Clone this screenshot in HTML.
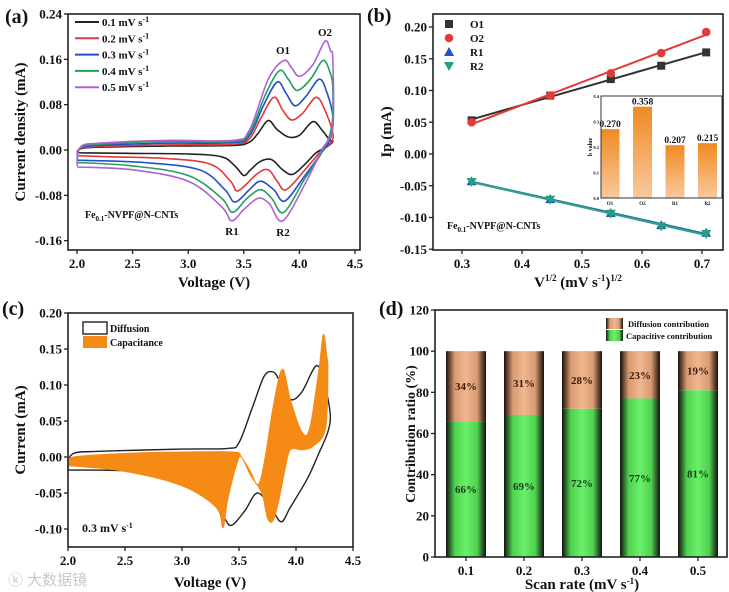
<!DOCTYPE html>
<html><head><meta charset="utf-8"><style>
body{margin:0;background:#fff}
svg{display:block;font-family:"Liberation Serif","Noto Serif CJK SC",serif;font-weight:bold}
</style></head><body>
<svg id="fig" width="729" height="592" viewBox="0 0 729 592" xmlns="http://www.w3.org/2000/svg">
<defs>
<linearGradient id="gBarG" x1="0" x2="1" y1="0" y2="0"><stop offset="0" stop-color="#111"/><stop offset="0.22" stop-color="#4fd24f"/><stop offset="0.5" stop-color="#6bf06b"/><stop offset="0.78" stop-color="#4fd24f"/><stop offset="1" stop-color="#111"/></linearGradient>
<linearGradient id="gBarT" x1="0" x2="1" y1="0" y2="0"><stop offset="0" stop-color="#1a0f08"/><stop offset="0.22" stop-color="#d89a72"/><stop offset="0.5" stop-color="#f0b890"/><stop offset="0.78" stop-color="#d89a72"/><stop offset="1" stop-color="#1a0f08"/></linearGradient>
<linearGradient id="gIn" x1="0" x2="0" y1="0" y2="1"><stop offset="0" stop-color="#f08a20"/><stop offset="1" stop-color="#f8c9a0"/></linearGradient>
</defs>
<g id="root"></g>
<text x="8" y="585" font-size="15" fill="#c8c8c8" font-weight="normal" font-family="Liberation Sans, Noto Sans CJK SC, sans-serif">ⓚ 大数据镜</text>
</svg>
<script>
// ---------- DATA ----------
// Panel (a): CV curves, [V, I(mA)] pairs, forward then reverse
const rateLabels = ["0.1","0.2","0.3","0.4","0.5"];
const rateColors = ["#222","#e03a3a","#2250c8","#22a060","#b060d8"];
const cv01 = [[2.0,-0.005],[2.03,0.002],[2.2,0.005],[2.8,0.007],[3.4,0.008],[3.55,0.014],[3.63,0.03],[3.72,0.052],[3.8,0.036],[3.9,0.023],[4.0,0.026],[4.12,0.05],[4.2,0.036],[4.27,0.018],[4.3,0.015],[4.25,0.006],[4.15,-0.005],[4.05,-0.025],[3.94,-0.043],[3.85,-0.035],[3.75,-0.017],[3.65,-0.02],[3.56,-0.035],[3.5,-0.045],[3.42,-0.028],[3.3,-0.012],[3.0,-0.007],[2.5,-0.006],[2.0,-0.005]];
const cv02 = [[2.0,-0.01],[2.03,0.002],[2.2,0.006],[2.8,0.009],[3.4,0.01],[3.55,0.02],[3.65,0.055],[3.77,0.093],[3.85,0.07],[3.93,0.053],[4.03,0.065],[4.15,0.093],[4.23,0.07],[4.3,0.03],[4.28,0.012],[4.18,-0.005],[4.05,-0.035],[3.88,-0.07],[3.8,-0.055],[3.72,-0.035],[3.62,-0.042],[3.45,-0.072],[3.38,-0.055],[3.2,-0.025],[2.8,-0.015],[2.3,-0.012],[2.0,-0.01]];
const cv03 = [[2.0,-0.018],[2.03,0.003],[2.2,0.008],[2.8,0.012],[3.4,0.013],[3.55,0.025],[3.68,0.08],[3.8,0.12],[3.88,0.1],[3.96,0.078],[4.06,0.095],[4.18,0.125],[4.25,0.1],[4.3,0.06],[4.28,0.02],[4.18,-0.01],[4.05,-0.045],[3.87,-0.09],[3.77,-0.07],[3.65,-0.055],[3.55,-0.07],[3.42,-0.092],[3.33,-0.07],[3.1,-0.035],[2.6,-0.022],[2.0,-0.018]];
const cv04 = [[2.0,-0.022],[2.03,0.004],[2.2,0.01],[2.8,0.015],[3.4,0.015],[3.55,0.03],[3.7,0.1],[3.82,0.14],[3.9,0.125],[3.98,0.105],[4.1,0.125],[4.21,0.158],[4.27,0.14],[4.3,0.11],[4.29,0.04],[4.2,-0.005],[4.05,-0.05],[3.86,-0.11],[3.75,-0.085],[3.65,-0.07],[3.53,-0.085],[3.4,-0.11],[3.3,-0.085],[3.0,-0.045],[2.5,-0.028],[2.0,-0.022]];
const cv05 = [[2.0,-0.028],[2.03,0.005],[2.2,0.012],[2.8,0.017],[3.4,0.017],[3.55,0.035],[3.72,0.125],[3.86,0.158],[3.93,0.145],[4.0,0.13],[4.12,0.15],[4.23,0.192],[4.28,0.175],[4.3,0.16],[4.3,0.04],[4.2,0.0],[4.05,-0.06],[3.85,-0.125],[3.73,-0.095],[3.63,-0.085],[3.5,-0.105],[3.39,-0.125],[3.3,-0.1],[3.0,-0.055],[2.5,-0.035],[2.0,-0.03]];
const aYTicks = [0.24,0.16,0.08,0.00,-0.08,-0.16];
const aXTicks = [2.0,2.5,3.0,3.5,4.0,4.5];
// Panel (b)
const bX = [0.316,0.447,0.548,0.632,0.707];
const bO1 = [0.053,0.092,0.118,0.139,0.160];
const bO2 = [0.050,0.092,0.127,0.159,0.192];
const bR1 = [-0.043,-0.071,-0.093,-0.112,-0.124];
const bR2 = [-0.044,-0.072,-0.094,-0.114,-0.126];
const bYTicks = [0.20,0.15,0.10,0.05,0.00,-0.05,-0.10,-0.15];
const bXTicks = [0.3,0.4,0.5,0.6,0.7];
const inCats = ["O1","O2","R1","R2"];
const inVals = [0.270,0.358,0.207,0.215];
const inTicks = [0.0,0.1,0.2,0.3,0.4];
// Panel (c)
const cDiff = [[2.0,-0.01],[2.05,0.005],[2.3,0.008],[3.0,0.011],[3.4,0.012],[3.5,0.02],[3.62,0.07],[3.72,0.112],[3.8,0.118],[3.86,0.105],[3.95,0.08],[4.05,0.09],[4.18,0.127],[4.25,0.1],[4.3,0.06],[4.28,0.035],[4.2,0.005],[4.1,-0.03],[3.95,-0.07],[3.87,-0.09],[3.78,-0.07],[3.66,-0.05],[3.55,-0.075],[3.43,-0.095],[3.35,-0.08],[3.1,-0.035],[2.6,-0.02],[2.0,-0.018]];
const cCap = [[2.0,-0.01],[2.05,0.0],[2.5,0.005],[3.0,0.007],[3.45,0.007],[3.52,0.0],[3.6,-0.02],[3.67,-0.038],[3.73,0.0],[3.8,0.07],[3.88,0.122],[3.95,0.08],[4.05,0.035],[4.12,0.04],[4.2,0.12],[4.24,0.17],[4.27,0.14],[4.28,0.12],[4.26,0.04],[4.15,0.015],[4.05,0.01],[3.95,0.01],[3.9,-0.02],[3.85,-0.06],[3.8,-0.088],[3.75,-0.085],[3.7,-0.05],[3.6,-0.025],[3.52,0.0],[3.48,-0.01],[3.4,-0.06],[3.36,-0.098],[3.3,-0.07],[3.0,-0.04],[2.5,-0.02],[2.0,-0.012]];
const cYTicks = [0.20,0.15,0.10,0.05,0.00,-0.05,-0.10];
const cXTicks = [2.0,2.5,3.0,3.5,4.0,4.5];
// Panel (d)
const dCats = ["0.1","0.2","0.3","0.4","0.5"];
const dCap = [66,69,72,77,81];
const dDiff = [34,31,28,23,19];
const dYTicks = [0,20,40,60,80,100,120];

// ---------- helpers ----------
const NS="http://www.w3.org/2000/svg";
const root=document.getElementById('root');
function mk(tag,attrs,parent){const e=document.createElementNS(NS,tag);for(const k in attrs)e.setAttribute(k,attrs[k]);(parent||root).appendChild(e);return e;}
function txt(x,y,s,size,anchor,parent,extra){const t=mk('text',Object.assign({x:x,y:y,'font-size':size,'text-anchor':anchor||'start',fill:'#111'},extra||{}),parent);t.innerHTML=s;return t;}
function lin(d0,d1,r0,r1){return v=>r0+(v-d0)*(r1-r0)/(d1-d0);}
function smooth(pts){let d='M'+pts[0][0].toFixed(1)+','+pts[0][1].toFixed(1);for(let i=0;i<pts.length-1;i++){const p0=pts[Math.max(i-1,0)],p1=pts[i],p2=pts[i+1],p3=pts[Math.min(i+2,pts.length-1)];const c1=[p1[0]+(p2[0]-p0[0])/6,p1[1]+(p2[1]-p0[1])/6],c2=[p2[0]-(p3[0]-p1[0])/6,p2[1]-(p3[1]-p1[1])/6];d+=' C'+c1[0].toFixed(1)+','+c1[1].toFixed(1)+' '+c2[0].toFixed(1)+','+c2[1].toFixed(1)+' '+p2[0].toFixed(1)+','+p2[1].toFixed(1);}return d;}
function frame(x0,y0,x1,y1,name){const r=mk('rect',{x:x0,y:y0,width:x1-x0,height:y1-y0,fill:'none',stroke:'#222','stroke-width':1.6});}
function yAxis(ticks,sy,x0,fmt,name){const g=mk('g',{});ticks.forEach(v=>{const y=sy(v);mk('line',{x1:x0-4,x2:x0,y1:y,y2:y,stroke:'#222','stroke-width':1.3},g);txt(x0-6,y+4.5,fmt(v),13,'end',g);});}
function xAxis(ticks,sx,y0,fmt,name){const g=mk('g',{});ticks.forEach(v=>{const x=sx(v);mk('line',{x1:x,x2:x,y1:y0,y2:y0+4,stroke:'#222','stroke-width':1.3},g);txt(x,y0+18,fmt(v),13,'middle',g);});}

// ---------- Panel (a) ----------
(function(){
const sx=lin(2.0,4.5,77,355), sy=lin(0,0.24,150,14);
const g=mk('g',{});
const curves=[cv01,cv02,cv03,cv04,cv05];
curves.forEach((c,i)=>{const p=mk('path',{d:smooth(c.map(q=>[sx(q[0]),sy(q[1])])),fill:'none',stroke:rateColors[i],'stroke-width':1.6},g);
});
frame(68,14,360,250,'plot-frame-a');
yAxis(aYTicks,sy,68,v=>v.toFixed(2),'y-axis-a');
xAxis(aXTicks,sx,250,v=>v.toFixed(1),'x-axis-a');
rateLabels.forEach((r,i)=>{const y=22+i*16.3;const l=mk('g',{},g);
mk('line',{x1:75,x2:99,y1:y,y2:y,stroke:rateColors[i],'stroke-width':2},l);txt(102,y+4,r+' mV s<tspan dy="-4" font-size="8">-1</tspan>',11,'start',l);});
txt(283,54,'O1',11,'middle',g);txt(325,36,'O2',11,'middle',g);txt(232,235,'R1',11,'middle',g);txt(283,236,'R2',11,'middle',g);
txt(85,218,'Fe<tspan font-size="7" dy="3">0.1</tspan><tspan dy="-3">-NVPF@N-CNTs</tspan>',10,'start',g);
txt(5,23,'(a)',20,'start',g);
const yt=txt(0,0,'Current density (mA)',15,'middle',g,{transform:'translate(25,132) rotate(-90)'});
const xt=txt(214,287,'Voltage (V)',15,'middle',g);
})();

// ---------- Panel (b) ----------
(function(){
const sx=lin(0.3,0.7,462,702), sy=lin(0,0.2,154,27);
const g=mk('g',{});
const series=[[bO1,'#333','sq','O1'],[bO2,'#e03a3a','ci','O2'],[bR1,'#2250c8','tu','R1'],[bR2,'#22a080','td','R2']];
function marker(shape,x,y,col,parent){if(shape=='sq')return mk('rect',{x:x-4,y:y-4,width:8,height:8,fill:col},parent);
if(shape=='ci')return mk('circle',{cx:x,cy:y,r:4.3,fill:col},parent);
if(shape=='tu')return mk('path',{d:`M${x},${y-5}L${x+5},${y+4}L${x-5},${y+4}Z`,fill:col},parent);
return mk('path',{d:`M${x},${y+5}L${x+5},${y-4}L${x-5},${y-4}Z`,fill:col},parent);}
const lineCols=['#333','#e03a3a','#2a6aa0','#30a090'];
series.forEach((s,si)=>{const ys=s[0];const n=bX.length;const mx=bX.reduce((a,b)=>a+b)/n,my=ys.reduce((a,b)=>a+b)/n;let num=0,den=0;bX.forEach((x,i)=>{num+=(x-mx)*(ys[i]-my);den+=(x-mx)*(x-mx);});const k=num/den,b0=my-k*mx;
const ln=mk('line',{x1:sx(bX[0]),y1:sy(k*bX[0]+b0),x2:sx(bX[n-1]),y2:sy(k*bX[n-1]+b0),stroke:lineCols[si],'stroke-width':2},g);
bX.forEach((x,i)=>{const m=marker(s[2],sx(x),sy(ys[i]),s[1],g);});
const l=mk('g',{},g);marker(s[2],449,24+si*14,s[1],l);txt(470,28+si*14,s[3],11,'start',l);});
frame(433,14,723,250,'plot-frame-b');
yAxis(bYTicks,sy,433,v=>v.toFixed(2),'y-axis-b');
xAxis(bXTicks,sx,250,v=>v.toFixed(1),'x-axis-b');
txt(447,229,'Fe<tspan font-size="7" dy="3">0.1</tspan><tspan dy="-3">-NVPF@N-CNTs</tspan>',10,'start',g);
txt(367,22,'(b)',20,'start',g);
const yt=txt(0,0,'Ip (mA)',15,'middle',g,{transform:'translate(391,132) rotate(-90)'});
const xt=txt(578,287,'V<tspan font-size="9" dy="-6">1/2</tspan><tspan dy="6"> (mV s</tspan><tspan font-size="9" dy="-6">-1</tspan><tspan dy="6">)</tspan><tspan font-size="9" dy="-6">1/2</tspan>',15,'middle',g);
// inset
const ig=mk('g',{},g);
mk('rect',{x:601,y:96,width:121,height:102,fill:'#fff'},ig);
const iy=lin(0,0.4,198,96);
inVals.forEach((v,i)=>{const cx=610+i*32.5;const r=mk('rect',{x:cx-9.5,y:iy(v),width:19,height:198-iy(v),fill:'url(#gIn)'},ig);
txt(cx,iy(v)-2,v.toFixed(3),9.5,'middle',ig);txt(cx,205,inCats[i],5,'middle',ig);});
mk('rect',{x:601,y:96,width:121,height:102,fill:'none',stroke:'#333','stroke-width':1},ig);
inTicks.forEach(v=>{txt(599,iy(v)+2,v.toFixed(1),4.5,'end',ig);});
txt(0,0,'b value',6,'middle',ig,{transform:'translate(592,147) rotate(-90)'});
})();

// ---------- Panel (c) ----------
(function(){
const sx=lin(2.0,4.5,68,353), sy=lin(0,0.2,457,313);
const g=mk('g',{});
const d=mk('path',{d:smooth(cDiff.map(q=>[sx(q[0]),sy(q[1])]))+'Z',fill:'#fff',stroke:'#222','stroke-width':1.4},g);
const c=mk('path',{d:smooth(cCap.map(q=>[sx(q[0]),sy(q[1])]))+'Z',fill:'#f58a14',stroke:'#f58a14','stroke-width':1},g);
frame(68,313,353,547,'plot-frame-c');
yAxis(cYTicks,sy,68,v=>v.toFixed(2),'y-axis-c');
xAxis(cXTicks,sx,547,v=>v.toFixed(1),'x-axis-c');
const l1=mk('g',{},g);
mk('rect',{x:83,y:322,width:24,height:12,fill:'#fff',stroke:'#222','stroke-width':1.4},l1);txt(110,332,'Diffusion',10,'start',l1);
const l2=mk('g',{},g);
mk('rect',{x:83,y:336,width:24,height:12,fill:'#f58a14'},l2);txt(110,346,'Capacitance',10,'start',l2);
txt(82,532,'0.3 mV s<tspan dy="-4" font-size="8">-1</tspan>',12,'start',g);
txt(2,315,'(c)',20,'start',g);
const yt=txt(0,0,'Current (mA)',15,'middle',g,{transform:'translate(25,430) rotate(-90)'});
const xt=txt(210,587,'Voltage (V)',15,'middle',g);
})();

// ---------- Panel (d) ----------
(function(){
const sy=lin(0,120,557,310);const sx=i=>466+i*58;
const g=mk('g',{});
dCats.forEach((c,i)=>{const x=sx(i)-20;
const b1=mk('rect',{x:x,y:sy(dCap[i]),width:40,height:557-sy(dCap[i]),fill:'url(#gBarG)'},g);
const b2=mk('rect',{x:x,y:sy(dCap[i]+dDiff[i]),width:40,height:sy(dCap[i])-sy(dCap[i]+dDiff[i]),fill:'url(#gBarT)'},g);
txt(sx(i),sy(dCap[i]/2)+4,dCap[i]+'%',11,'middle',g,{fill:'#1a3a1a'});
txt(sx(i),sy(dCap[i]+dDiff[i]/2)+4,dDiff[i]+'%',11,'middle',g,{fill:'#3a1a0a'});});
frame(435,310,727,557,'plot-frame-d');
yAxis(dYTicks,sy,435,v=>String(v),'y-axis-d');
const xg=mk('g',{});
dCats.forEach((c,i)=>{mk('line',{x1:sx(i),x2:sx(i),y1:557,y2:561,stroke:'#222','stroke-width':1.3},xg);txt(sx(i),575,c,13,'middle',xg);});
const l1=mk('g',{},g);
mk('rect',{x:606,y:318,width:17,height:11,fill:'url(#gBarT)'},l1);txt(628,327,'Diffusion contribution',8.5,'start',l1);
const l2=mk('g',{},g);
mk('rect',{x:606,y:330,width:17,height:11,fill:'url(#gBarG)'},l2);txt(626,339,'Capacitive contribution',8.5,'start',l2);
txt(379,315,'(d)',20,'start',g);
const yt=txt(0,0,'Contribution ratio (%)',14,'middle',g,{transform:'translate(415,434) rotate(-90)'});
const xt=txt(582,589,'Scan rate (mV s<tspan dy="-5" font-size="9">-1</tspan><tspan dy="5">)</tspan>',15,'middle',g);
})();
</script>
</body></html>
